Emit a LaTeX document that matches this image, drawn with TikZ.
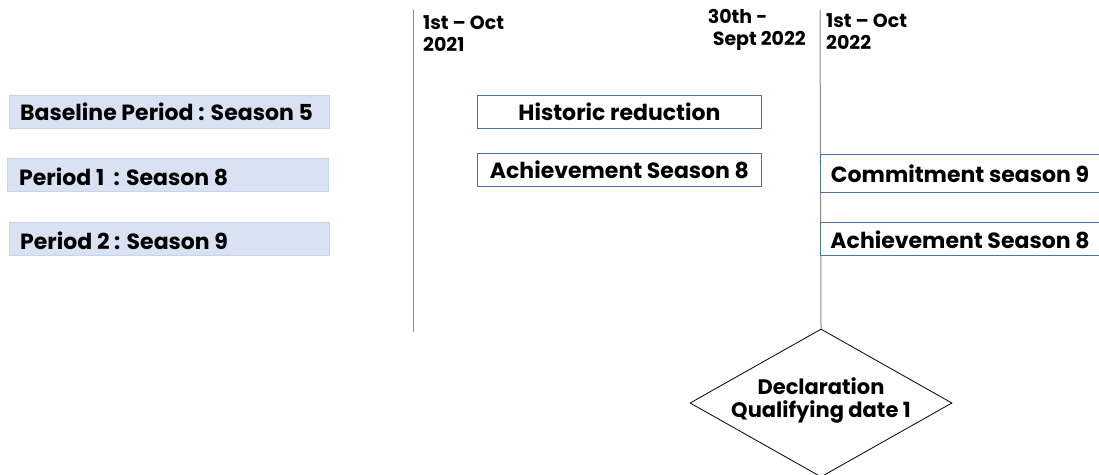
\documentclass[tikz,border=0pt]{standalone}
\usepackage{fontspec}
\setmainfont{Poppins}
\usetikzlibrary{shapes.geometric}
\begin{document}
\begin{tikzpicture}[x=1pt,y=-1pt,
  lbl/.style={font=\fontsize{22}{24}\selectfont\bfseries, inner sep=0pt},
  period/.style={line width=0.6pt, minimum height=33pt, inner sep=0pt},
  bar/.style={line width=0.9pt, fill=white, minimum height=33pt, inner sep=0pt},
  vline/.style={draw=black!45, line width=1pt},
  datetxt/.style={font=\fontsize{19}{22}\selectfont\bfseries, align=left, inner sep=0pt}]
\useasboundingbox (0,0) rectangle (1099,474);
\definecolor{pfill}{HTML}{D9E2F3}
\definecolor{pdraw}{HTML}{C8D4EA}
\definecolor{bdraw}{HTML}{4F71A8}
% period boxes
\node[period, fill=pfill, draw=pdraw, minimum width=320pt, anchor=north west] (p0) at (9,95) {};
\node[lbl, anchor=west] (p0t) at (20,112) {Baseline Period : Season 5};
\node[period, fill=pfill, draw=pdraw, minimum width=321pt, anchor=north west] (p1) at (7,158) {};
\node[lbl, anchor=west] (p1t) at (19,177) {Period 1 \ : Season 8};
\node[period, fill=pfill, draw=pdraw, minimum width=320pt, anchor=north west] (p2) at (9,222) {};
\node[lbl, anchor=west] (p2t) at (20,241) {Period 2 : Season 9};
% vertical lines
\coordinate (l1t) at (413,10);
\coordinate (l1b) at (413,332);
\draw[vline] (l1t) -- (l1b);
\coordinate (l2t) at (820,10);
\node[diamond, draw, line width=0.8pt, minimum width=262pt, minimum height=148pt, inner sep=0pt] (dia) at (821,403) {};
\node[align=center, inner sep=0pt, font=\fontsize{21}{23}\selectfont\bfseries] (diat) at (821,400) {Declaration\\Qualifying date 1};
\draw[vline] (l2t) -- (dia.north);
% dates
\node[datetxt, anchor=north west] (d1) at (423,15) {1st -- Oct\\2021};
\node[datetxt, anchor=north east] (d2) at (806,9) {30th -\\\hspace*{5pt}Sept 2022};
\node[datetxt, anchor=north west] (d3) at (826,13) {1st -- Oct\\2022};
% bars
\node[bar, draw=bdraw, minimum width=284pt, anchor=north west] (hr) at (477,95) {};
\node[lbl] at (hr.center) {Historic reduction};
\node[bar, draw=bdraw, minimum width=284pt, anchor=north west] (as1) at (477,153) {};
\node[lbl] at (as1.center) {Achievement Season 8};
\node[bar, draw=bdraw, minimum width=290pt, minimum height=38pt, anchor=north west] (cs) at (820,154) {};
\node[lbl] at (960,174) {Commitment season 9};
\node[bar, draw=bdraw, minimum width=290pt, anchor=north west] (as2) at (820,222) {};
\node[lbl] at (960,240) {Achievement Season 8};
\end{tikzpicture}
\end{document}
